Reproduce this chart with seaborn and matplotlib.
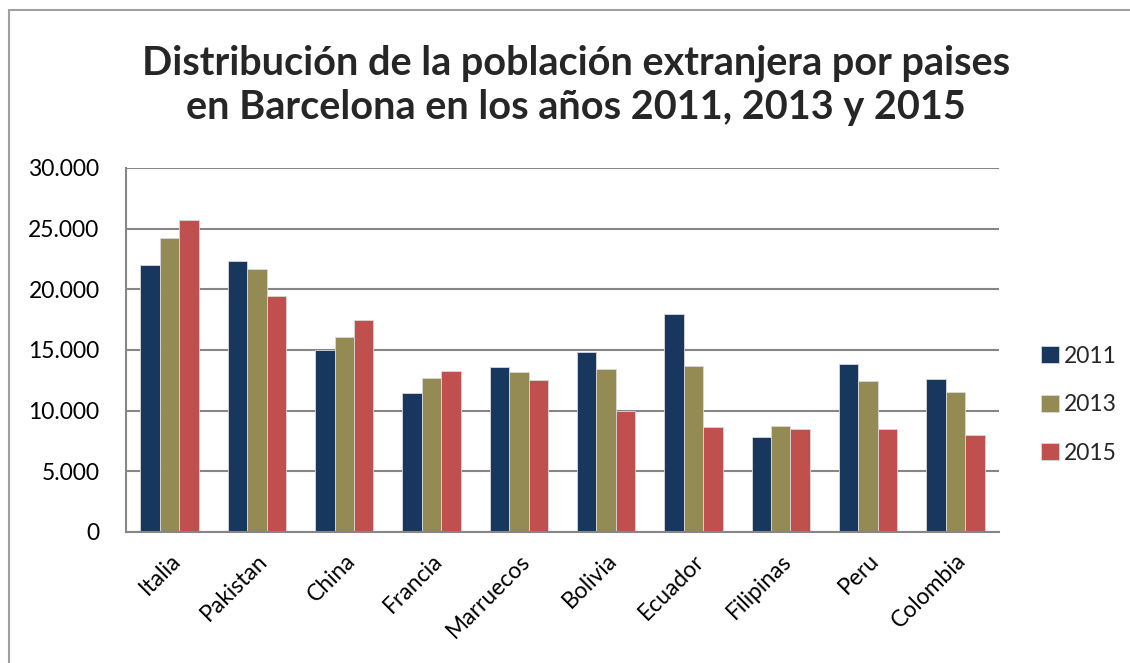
import matplotlib
matplotlib.use("Agg")
import matplotlib.pyplot as plt
import seaborn as sns
import pandas as pd
from matplotlib.lines import Line2D
from matplotlib.ticker import FuncFormatter, MultipleLocator

paises = ["Italia", "Pakistan", "China", "Francia", "Marruecos", "Bolivia",
          "Ecuador", "Filipinas", "Peru", "Colombia"]
anios = ["2011", "2013", "2015"]
v2011 = [22000, 22350, 15000, 11480, 13630, 14840, 17950, 7850, 13820, 12580]
v2013 = [24250, 21650, 16100, 12670, 13160, 13430, 13660, 8700, 12470, 11510]
v2015 = [25700, 19450, 17450, 13250, 12550, 9950, 8620, 8450, 8450, 7960]
colores = ["#17375E", "#948A54", "#C0504D"]
titulo = "Distribución de la población extranjera por paises\nen Barcelona en los años 2011, 2013 y 2015"

df = pd.DataFrame({
    "pais": paises * 3,
    "anio": [anios[0]] * 10 + [anios[1]] * 10 + [anios[2]] * 10,
    "valor": v2011 + v2013 + v2015,
})

sns.set_theme(style="white")
plt.rcParams["font.family"] = ["Lato", "DejaVu Sans"]

fig = plt.figure(figsize=(11.3, 6.63), dpi=100)
ax = fig.add_axes([126 / 1130, 1 - 532 / 663, (999 - 126) / 1130, (532 - 168) / 663])

sns.barplot(data=df, x="pais", y="valor", hue="anio", hue_order=anios,
            palette=colores, width=0.67, ax=ax, saturation=1,
            edgecolor="#D9D9D9", linewidth=0.6, legend=True)

ax.set_ylim(0, 30000)
ax.set_xlim(-0.5, len(paises) - 0.5)
ax.yaxis.set_major_locator(MultipleLocator(5000))
ax.yaxis.set_major_formatter(FuncFormatter(lambda v, p: f"{int(v):,}".replace(",", ".")))
ax.grid(axis="y", color="#868686", linewidth=1.5)
ax.set_axisbelow(True)
for s in ["left", "bottom", "top", "right"]:
    ax.spines[s].set_color("#868686")
    ax.spines[s].set_linewidth(1.5)
ax.spines["top"].set_visible(False)
ax.spines["right"].set_visible(False)
ax.set_xlabel("")
ax.set_ylabel("")
ax.tick_params(axis="y", labelsize=16.5, pad=19, length=0, colors="#000000")
ax.tick_params(axis="x", labelsize=16.5, length=0, pad=13, colors="#000000")
plt.setp(ax.get_xticklabels(), rotation=45, ha="right", rotation_mode="anchor")

leg = ax.legend(loc="center left", bbox_to_anchor=(1.025, 0.35), frameon=False,
                fontsize=16.5, handlelength=0.75, handleheight=0.75, labelspacing=1.2,
                handletextpad=0.25)

fig.text(0.51, 1 - 85 / 663, titulo, ha="center", va="center",
         fontsize=28.5, fontweight="bold", linespacing=1.25)

fig.add_artist(Line2D([9 / 1130, 9 / 1130], [0, 1 - 10 / 663], color="#A0A0A0", lw=1.5,
                      transform=fig.transFigure))
fig.add_artist(Line2D([9 / 1130, 1], [1 - 10 / 663, 1 - 10 / 663], color="#A0A0A0", lw=1.5,
                      transform=fig.transFigure))

fig.savefig("out.png", dpi=100)
